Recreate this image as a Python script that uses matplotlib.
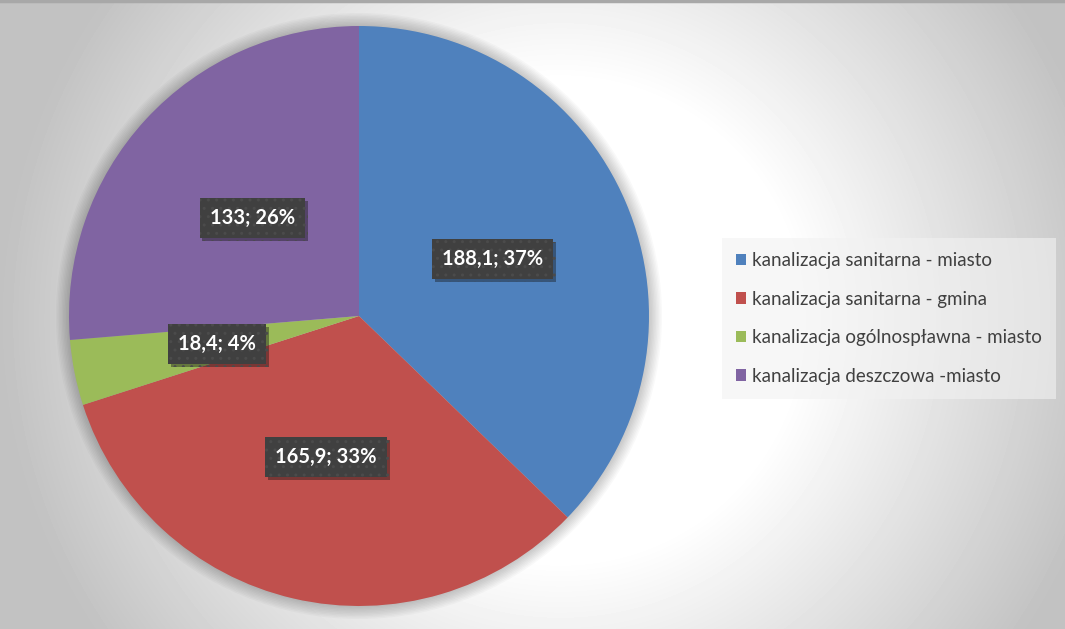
import numpy as np
import matplotlib.pyplot as plt
import matplotlib.patheffects as pe
from matplotlib.patches import Circle, Rectangle
from matplotlib.lines import Line2D

# data
categories = ['kanalizacja sanitarna - miasto', 'kanalizacja sanitarna - gmina',
              'kanalizacja ogólnospławna - miasto', 'kanalizacja deszczowa -miasto']
values = [188.1, 165.9, 18.4, 133]
colors = ['#4f81bd', '#c0504d', '#9bbb59', '#8064a2']

W, H = 1065, 629
fig = plt.figure(figsize=(W / 100, H / 100), dpi=100)

# radial grey-to-white background
bg = fig.add_axes([0, 0, 1, 1])
yy, xx = np.mgrid[0:H, 0:W]
d = np.hypot(xx - 560, yy - 320)
shade = 1 - 0.24 * np.clip((d - 240) / 320, 0, 1)
bg.imshow(shade, cmap='gray', vmin=0, vmax=1, extent=(0, W, H, 0), aspect='auto')
bg.set_xlim(0, W)
bg.set_ylim(H, 0)
bg.axis('off')
fig.add_artist(Line2D([0, 1], [0.998, 0.998], color='#a8a8a8', lw=2.5))

# pie axes
cx, cy, r = 359, 316, 290
ax = fig.add_axes([(cx - r) / W, (H - cy - r) / H, 2 * r / W, 2 * r / H])
ax.set_facecolor('none')

# soft glow round the pie
for i in range(10):
    ax.add_patch(Circle((0, 0), 1.0 + 0.005 * i, color='black', alpha=0.022,
                        clip_on=False, zorder=0, lw=0))

total = sum(values)
texts = iter(f"{v:g}".replace('.', ',') + f"; {round(v / total * 100)}%" for v in values)

wedges, _, autotexts = ax.pie(values, colors=colors, startangle=90, counterclock=False,
                              autopct=lambda p: next(texts), pctdistance=0.5,
                              wedgeprops=dict(linewidth=0))
for w in wedges:
    w.set_zorder(1)
for t in autotexts:
    t.set_fontfamily('Lato')
    t.set_fontweight('bold')
    t.set_fontsize(14.5)
    t.set_color('white')
    t.set_zorder(5)
    t.set_bbox(dict(boxstyle='square,pad=0.5', facecolor='#404040', edgecolor='#4b4b4b',
                    hatch='..', linewidth=0))
    t.get_bbox_patch().set_path_effects([pe.SimplePatchShadow(offset=(2, -2), alpha=0.4),
                                         pe.Normal()])
ax.set_xlim(-1, 1)
ax.set_ylim(-1, 1)
ax.set_aspect('equal')

# legend
handles = [Rectangle((0, 0), 1, 1, facecolor=c, edgecolor='none') for c in colors]
leg = fig.legend(handles, categories, loc='upper left',
                 bbox_to_anchor=(722 / W, 1 - 238 / H), borderaxespad=0,
                 prop={'family': 'Lato', 'size': 13.5}, frameon=True,
                 facecolor='#f2f2f2', framealpha=0.6, edgecolor='none', fancybox=False,
                 handlelength=0.55, handleheight=0.55, handletextpad=0.3,
                 labelspacing=1.15, borderpad=0.75)
for t in leg.get_texts():
    t.set_color('#404040')

fig.savefig('out.png', dpi=100)
